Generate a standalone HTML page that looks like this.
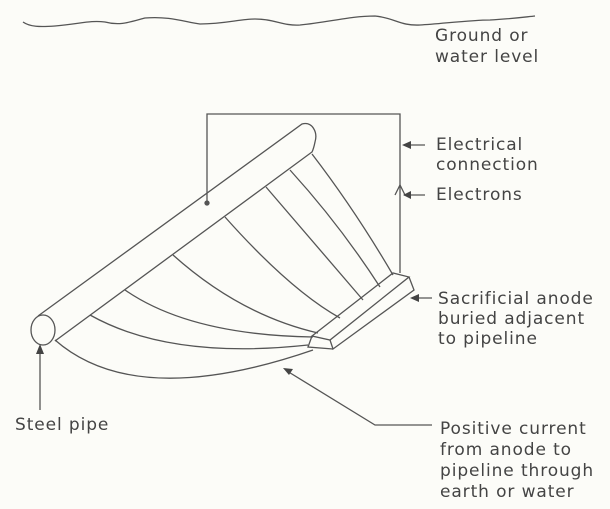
<!DOCTYPE html>
<html><head><style>
html,body{margin:0;padding:0;background:#fcfcf8;}
svg{display:block}
text{font-family:"DejaVu Sans","Liberation Sans",sans-serif;font-size:17px;fill:#444;letter-spacing:0.9px}
</style></head><body>
<svg width="610" height="509" viewBox="0 0 610 509" xmlns="http://www.w3.org/2000/svg">
<g fill="none" stroke="#555" stroke-width="1.3">
<path d="M23,22 C30,27 40,27 55,26 C80,24 90,20 105,22 C120,26 130,22 145,18 C170,16 185,22 200,24 C225,24 240,19 255,19 C275,19 282,26 300,25 C330,22 350,16 375,16 C395,18 400,26 420,25 C440,24 470,20 490,20 C510,19 525,17 535,16"/>
<ellipse cx="43" cy="330" rx="12" ry="15"/>
<path d="M38,316 L302,124 C312,121 318,132 315,142 C314,147 313,150 312,152 L55,341"/>
<path d="M207,203 L207,114 L400,114 L400,273"/>
<circle cx="207" cy="203" r="2" fill="#555"/>
<path d="M312,336 L393,273 L409,277 L330,340 Z"/>
<path d="M409,277 L414,290 L333,349 L330,340"/>
<path d="M312,336 L308,347 L333,349"/>
<path d="M90,315 Q170,360 308,345"/>
<path d="M125,290 Q190,335 313,337"/>
<path d="M173,255 Q240,315 318,333"/>
<path d="M225,217 Q290,290 340,318"/>
<path d="M266,187 Q320,250 363,300"/>
<path d="M290,170 Q340,225 380,287"/>
<path d="M312,154 Q355,210 393,275"/>
<path d="M55,340 Q136,411 313,350"/>
<path d="M425,145 L404,145"/>
<path d="M425,195 L404,195"/>
<path d="M395,195 L400,185 L405,195"/>
<path d="M432,298 L412,298"/>
<path d="M432,425 L375,425 L287,371"/>
<path d="M40,410 L40,350"/>
</g>
<g fill="#444">
<path d="M402,145 L411,141 L411,149 Z"/>
<path d="M403,195 L411,191 L411,199 Z"/>
<path d="M410,298 L419,294 L419,302 Z"/>
<path d="M283,368 L293,369 L289,375 Z"/>
<path d="M40,344 L36,354 L44,354 Z"/>
</g>
<text x="435" y="41">Ground or</text>
<text x="435" y="62">water level</text>
<text x="436" y="150">Electrical</text>
<text x="436" y="170">connection</text>
<text x="436" y="200">Electrons</text>
<text x="438" y="304">Sacrificial anode</text>
<text x="438" y="324">buried adjacent</text>
<text x="438" y="344">to pipeline</text>
<text x="15" y="430">Steel pipe</text>
<text x="440" y="434">Positive current</text>
<text x="440" y="455">from anode to</text>
<text x="440" y="476">pipeline through</text>
<text x="440" y="497">earth or water</text>
</svg>
</body></html>
